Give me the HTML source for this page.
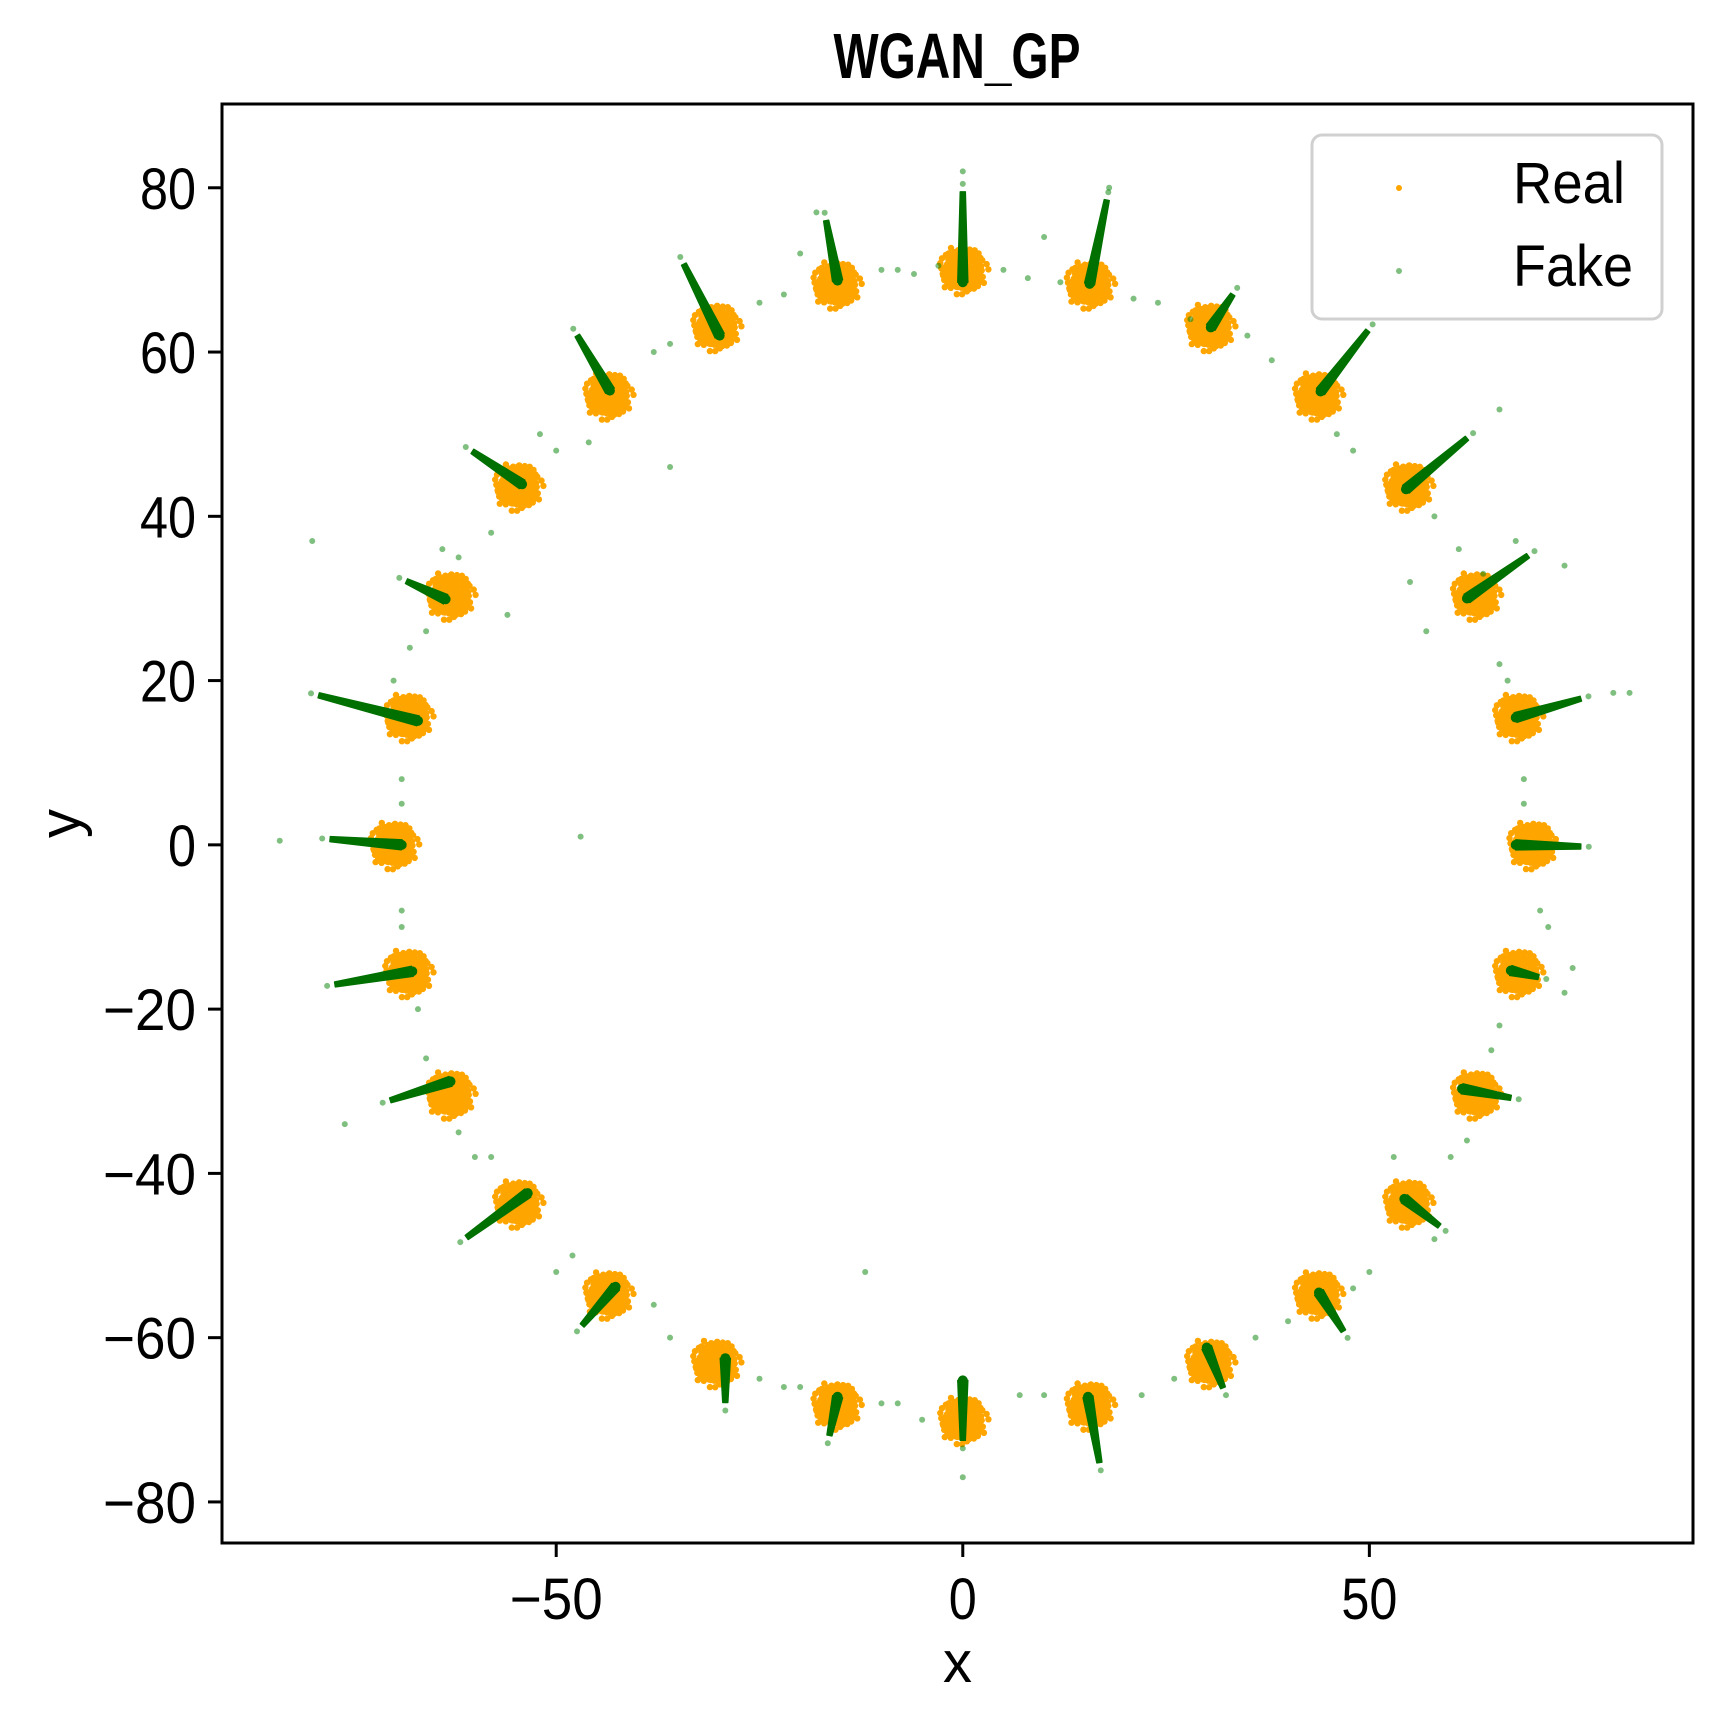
<!DOCTYPE html>
<html><head><meta charset="utf-8"><style>
html,body{margin:0;padding:0;background:#fff;}
svg{display:block;}
text{font-family:"Liberation Sans","Noto Sans CJK SC",sans-serif;fill:#000;}
</style></head><body>
<svg id="chart" width="1722" height="1720" viewBox="0 0 1722 1720" xmlns="http://www.w3.org/2000/svg">
<rect x="0" y="0" width="1722" height="1720" fill="#fff"/>
<text x="957" y="78" font-size="64" font-weight="bold" text-anchor="middle" textLength="247" lengthAdjust="spacingAndGlyphs">WGAN_GP</text>
<g id="plot"></g>
<g id="axes"></g>
</svg>
<script>
// ---- data ----
const modeCount = 28;
const modeRadius = 70;
const realSpread = 1.0;
// fake line segments per mode: start x, start y, end x, end y (data units)
const fakeStartX = [68,68,62,54.5,44,30.5,15.6,0,-15.4,-29.9,-43.4,-54.2,-63.6,-67,-69,-67.7,-63,-53.5,-42.7,-29.2,-15.4,0,15.4,30,43.8,54.3,61.4,67.4];
const fakeStartY = [0,15.5,30,43.3,55.2,63,68.3,68.5,68.7,62,55.3,43.9,29.9,15.1,0,-15.4,-28.8,-42.4,-53.8,-62.5,-67.2,-65.2,-67.2,-61.2,-54.5,-43.1,-29.7,-15.3];
const fakeEndX = [76,76,69.5,62,49.8,33.2,17.7,0,-16.8,-34.3,-47.4,-60.3,-68.4,-79.2,-77.8,-77.2,-70.4,-61,-46.8,-29.2,-16.4,0,16.8,32,46.8,58.6,67.4,70.8];
const fakeEndY = [-0.2,17.8,35.2,49.5,62.6,67,78.5,79.5,76,70.7,62,47.9,32.1,18.2,0.7,-17,-31.1,-47.8,-58.5,-67.9,-71.9,-72.5,-75.2,-66.1,-59.2,-46.4,-30.8,-16.1];
const strayX = [-8,-6,-3,5,8,10,12,21,24,28,35,38,46,48,58,61,64,55,57,66,67,69,69,71,72,66,65,62,60,58,53,50,48,40,36,26,22,10,7,-5,-8,-10,-12,-20,-22,-25,-36,-38,-48,-50,-58,-60,-62,-66,-67,-69,-69,-69,-69,-70,-68,-66,-64,-62,-58,-52,-50,-56,-46,-47,-36,-38,-36,-25,-22,-10,-20,-80,-76,80,66,68,74,75,74,0,0,82,-84,18,-18];
const strayY = [70,69.5,70.5,70,69,74,68.5,66.5,66,64,62,59,50,48,40,36,33,32,26,22,20,8,5,-8,-10,-22,-25,-36,-38,-48,-38,-52,-54,-58,-60,-65,-67,-67,-67,-70,-68,-68,-52,-66,-66,-65,-60,-56,-50,-52,-38,-38,-35,-26,-20,-8,-10,5,8,20,24,26,36,35,38,50,48,28,49,1,46,60,61,66,67,70,72,37,-34,18.5,53,37,34,-15,-18,82,-77,18.5,0.5,80,77];
const xTicks = [-50,0,50];
const yTicks = [-80,-60,-40,-20,0,20,40,60,80];
const xTickLabels = ["\u221250","0","50"];
const yTickLabels = ["\u221280","\u221260","\u221240","\u221220","0","20","40","60","80"];

// ---- axis functions ----
const L=222,R=1693,T=104,B=1543;
const xMin=-91.1,xMax=89.8,yMin=-85.0,yMax=90.2;
const sx=v=>L+(v-xMin)/(xMax-xMin)*(R-L);
const sy=v=>B-(v-yMin)/(yMax-yMin)*(B-T);
const NS="http://www.w3.org/2000/svg";
const plot=document.getElementById('plot');
const axes=document.getElementById('axes');
function mk(tag,attrs,parent){const e=document.createElementNS(NS,tag);for(const k in attrs)e.setAttribute(k,attrs[k]);parent.appendChild(e);return e;}

// real clusters
const realG=mk('g',{},plot);


const golden=Math.PI*(3-Math.sqrt(5));
for(let k=0;k<modeCount;k++){
  const a=2*Math.PI*k/modeCount;
  const cx=modeRadius*Math.cos(a), cy=modeRadius*Math.sin(a);
  const g=mk('g',{fill:'#ffa500'},realG);
  
  
  const n=150;
  for(let i=0;i<n;i++){
    const r=realSpread*2.7*Math.sqrt((i+0.5)/n)*(1+0.2*Math.sin(i*7.3));
    const t=i*golden;
    mk('circle',{cx:sx(cx+r*Math.cos(t)).toFixed(1),cy:sy(cy+r*Math.sin(t)).toFixed(1),r:3.2},g);
  }
}
// fake lines
const fakeG=mk('g',{},plot);


for(let k=0;k<fakeStartX.length;k++){
  const x1=sx(fakeStartX[k]),y1=sy(fakeStartY[k]),x2=sx(fakeEndX[k]),y2=sy(fakeEndY[k]);
  const dx=x2-x1,dy=y2-y1,len=Math.hypot(dx,dy)||1;
  const nx=-dy/len,ny=dx/len;
  const w0=5,w1=2.5;
  const poly=mk('polygon',{points:[
    [x1+nx*w0,y1+ny*w0],[x2+nx*w1,y2+ny*w1],[x2-nx*w1,y2-ny*w1],[x1-nx*w0,y1-ny*w0]
  ].map(p=>p[0].toFixed(1)+','+p[1].toFixed(1)).join(' '),fill:'#007000','stroke':'#007000','stroke-width':1.5,'stroke-linejoin':'round'},fakeG);
  
  
  mk('circle',{cx:x1,cy:y1,r:5,fill:'#007000'},fakeG);
  mk('circle',{cx:x2+dx/len*8,cy:y2+dy/len*8,r:3,fill:'#008000','fill-opacity':0.5},fakeG);
}
// stray fake points
const strayG=mk('g',{fill:'#008000','fill-opacity':0.5},plot);


for(let i=0;i<strayX.length;i++){
  const c=mk('circle',{cx:sx(strayX[i]),cy:sy(strayY[i]),r:3},strayG);
  
  
}

// frame
const frame=mk('rect',{x:L,y:T,width:R-L,height:B-T,fill:'none',stroke:'#000','stroke-width':3},axes);


function lblLen(s){let w=0;for(const ch of s)w+=(ch==='\u2212'?37:28);return w;}
xTicks.forEach((v,i)=>{
  const x=sx(v);
  const t=mk('line',{x1:x,y1:B,x2:x,y2:B+14,stroke:'#000','stroke-width':3},axes);
  
  
  const s=xTickLabels[i];
  const tx=mk('text',{x:x,y:B+76,'font-size':58,'text-anchor':'middle',textLength:lblLen(s),lengthAdjust:'spacingAndGlyphs'},axes);
  tx.textContent=s;
  
  
});
yTicks.forEach((v,i)=>{
  const y=sy(v);
  const t=mk('line',{x1:L-14,y1:y,x2:L,y2:y,stroke:'#000','stroke-width':3},axes);
  
  
  const s=yTickLabels[i];
  const tx=mk('text',{x:L-26,y:y+21,'font-size':58,'text-anchor':'end',textLength:lblLen(s),lengthAdjust:'spacingAndGlyphs'},axes);
  tx.textContent=s;
  
  
});
const xl=mk('text',{x:(L+R)/2,y:1682,'font-size':58,'text-anchor':'middle'},axes);
xl.textContent='x';


const yl=mk('text',{x:0,y:0,'font-size':58,'text-anchor':'middle',transform:'translate(80,'+((T+B)/2)+') rotate(-90)'},axes);
yl.textContent='y';



// legend
const lg=mk('g',{},axes);


mk('rect',{x:1312,y:135,width:350,height:184,rx:10,fill:'#fff','fill-opacity':0.8,stroke:'#d0d0d0','stroke-width':3},lg);
const m1=mk('circle',{cx:1399,cy:188,r:3,fill:'#ffa500'},lg);


const t1=mk('text',{x:1513,y:203,'font-size':58,textLength:112,lengthAdjust:'spacingAndGlyphs'},lg);
t1.textContent='Real';


const m2=mk('circle',{cx:1399,cy:271,r:3,fill:'#008000','fill-opacity':0.5},lg);


const t2=mk('text',{x:1513,y:286,'font-size':58,textLength:120,lengthAdjust:'spacingAndGlyphs'},lg);
t2.textContent='Fake';


</script>
</body></html>
